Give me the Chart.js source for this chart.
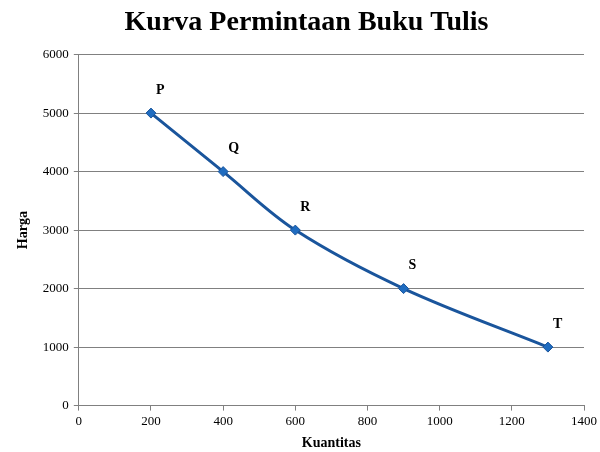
<!DOCTYPE html>
<html>
<head>
<meta charset="utf-8">
<script src="https://cdn.jsdelivr.net/npm/chart.js@4"></script>
<style>
  html, body { margin: 0; padding: 0; background: #fff; }
  #wrap { width: 600px; height: 452px; }
</style>
</head>
<body>
<div id="wrap"><canvas id="demandChart" width="600" height="452"></canvas></div>
<script>
// data
const quantities = [200, 400, 600, 900, 1300];
const prices = [5000, 4000, 3000, 2000, 1000];
const pointLabels = ['P', 'Q', 'R', 'S', 'T'];
const xTicks = [0, 200, 400, 600, 800, 1000, 1200, 1400];
const yTicks = [0, 1000, 2000, 3000, 4000, 5000, 6000];

const serif = "'Liberation Serif', 'DejaVu Serif', serif";

// letter next to each point
const letterPlugin = {
    id: 'letters',
    afterDatasetsDraw(chart) {
        const ctx = chart.ctx;
        const xs = chart.scales.x, ys = chart.scales.y;
        ctx.save();
        ctx.font = "bold 14px " + serif;
        ctx.fillStyle = '#000';
        ctx.textAlign = 'left';
        ctx.textBaseline = 'middle';
        quantities.forEach((q, i) => {
            ctx.fillText(pointLabels[i], xs.getPixelForValue(q) + 5, ys.getPixelForValue(prices[i]) - 23);
        });
        ctx.restore();
    }
};

document.addEventListener('DOMContentLoaded', function() {
    const ctx = document.getElementById('demandChart');
    new Chart(ctx, {
        type: 'scatter',
        data: {
            datasets: [{
                data: quantities.map((q, i) => ({ x: q, y: prices[i] })),
                showLine: true,
                borderColor: '#1a559c',
                borderWidth: 3,
                tension: 0.35,
                pointStyle: 'rectRot',
                pointRadius: 5,
                pointBackgroundColor: '#1f6cc0',
                pointBorderColor: '#1a559c',
                pointBorderWidth: 1
            }]
        },
        options: {
            responsive: false,
            animation: false,
            layout: { padding: { top: 4, right: 2, bottom: 0, left: 15 } },
            plugins: {
                legend: { display: false },
                tooltip: { enabled: false },
                title: {
                    display: true,
                    text: 'Kurva Permintaan Buku Tulis',
                    color: '#000',
                    font: { family: serif, size: 28, weight: 'bold' },
                    padding: { top: 2, bottom: 15 }
                }
            },
            scales: {
                x: {
                    type: 'linear',
                    min: 0, max: 1400,
                    afterBuildTicks: axis => { axis.ticks = xTicks.map(v => ({ value: v })); },
                    grid: { display: true, drawOnChartArea: false, drawTicks: true, tickLength: 5, color: '#808080' },
                    border: { display: true, color: '#808080', width: 1 },
                    ticks: { color: '#000', font: { family: serif, size: 13 }, padding: 3, maxRotation: 0, callback: v => String(v) },
                    title: { display: true, text: 'Kuantitas', color: '#000', font: { family: serif, size: 14, weight: 'bold' }, padding: { top: 3, bottom: 0 } }
                },
                y: {
                    type: 'linear',
                    min: 0, max: 6000,
                    afterBuildTicks: axis => { axis.ticks = yTicks.map(v => ({ value: v })); },
                    grid: { display: true, drawOnChartArea: true, drawTicks: true, tickLength: 5, color: '#808080' },
                    border: { display: true, color: '#808080', width: 1 },
                    ticks: { color: '#000', font: { family: serif, size: 13 }, padding: 5, callback: v => String(v) },
                    title: { display: true, text: 'Harga', color: '#000', font: { family: serif, size: 14, weight: 'bold' }, padding: { top: 0, bottom: 6 } }
                }
            }
        },
        plugins: [letterPlugin]
    });
});
</script>
</body>
</html>
